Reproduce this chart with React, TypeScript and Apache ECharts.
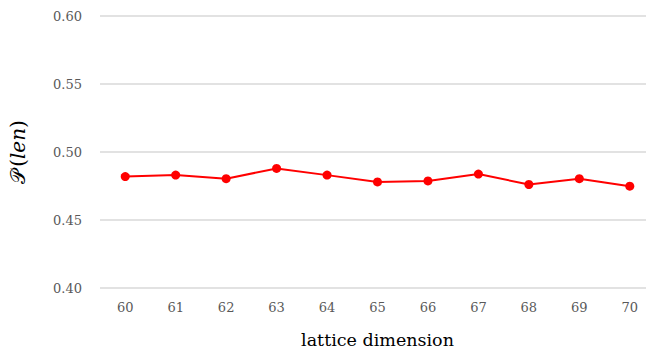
import React, { useEffect, useRef } from "react";
import * as echarts from "echarts";

const categories = ["60", "61", "62", "63", "64", "65", "66", "67", "68", "69", "70"];
const values = [0.4819, 0.483, 0.4804, 0.4879, 0.483, 0.478, 0.4787, 0.4838, 0.4761, 0.4804, 0.4749];
const yMin = 0.4;
const yMax = 0.6;
const yInterval = 0.05;

export default function App() {
  const ref = useRef<HTMLDivElement>(null);
  useEffect(() => {
    if (!ref.current) return;
    const chart = echarts.init(ref.current, null, { renderer: "svg" });
    chart.setOption({
      animation: false,
      backgroundColor: "#ffffff",
      grid: { left: 97, top: 16, right: 5, bottom: 62, containLabel: false },
      xAxis: {
        type: "category",
        data: categories,
        boundaryGap: true,
        axisLine: { show: false },
        axisTick: { show: false },
        axisLabel: { color: "#595959", fontFamily: "DejaVu Serif", fontSize: 13, margin: 13 },
        name: "lattice dimension",
        nameLocation: "middle",
        nameGap: 43,
        nameTextStyle: { color: "#000000", fontFamily: "DejaVu Serif", fontSize: 17.5 },
      },
      yAxis: {
        type: "value",
        min: yMin,
        max: yMax,
        interval: yInterval,
        axisLine: { show: false },
        axisTick: { show: false },
        splitLine: { lineStyle: { color: "#d9d9d9", width: 1.5 } },
        axisLabel: {
          color: "#595959",
          fontFamily: "DejaVu Serif",
          fontSize: 13,
          margin: 18,
          formatter: (v: number) => v.toFixed(2),
        },
        name: "{p|𝒫}{n|(}{i|len}{n|)}",
        nameLocation: "middle",
        nameGap: 72,
        nameRotate: 90,
        nameTextStyle: {
          color: "#000000",
          fontFamily: "DejaVu Serif",
          fontSize: 20,
          rich: {
            p: { fontFamily: "DejaVu Sans", fontSize: 20, color: "#000000", padding: [0, 3, 0, 0] },
            n: { fontFamily: "DejaVu Serif", fontSize: 20, color: "#000000" },
            i: { fontFamily: "DejaVu Serif", fontSize: 20, fontStyle: "italic", color: "#000000" },
          },
        },
      },
      series: [
        {
          type: "line",
          data: values,
          symbol: "circle",
          symbolSize: 9,
          lineStyle: { color: "#ff0000", width: 2 },
          itemStyle: { color: "#ff0000" },
        },
      ],
    });
    return () => chart.dispose();
  }, []);
  return (
    <div style={{ position: "fixed", left: 0, top: 0, width: 646, height: 354, overflow: "hidden", background: "#fff" }}>
      <div ref={ref} style={{ width: 660, height: 354 }} />
    </div>
  );
}
